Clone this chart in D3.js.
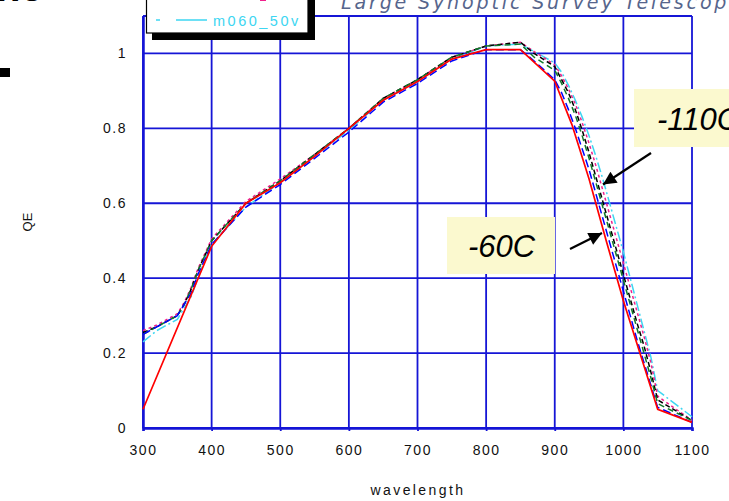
<!DOCTYPE html>
<html><head><meta charset="utf-8">
<script src="https://cdn.jsdelivr.net/npm/d3@7"></script>
<style>
html,body{margin:0;padding:0;background:#fff;}
svg{display:block;font-family:"Liberation Sans",Arial,sans-serif;}
</style></head>
<body>
<svg id="chart" width="729" height="501"></svg>
<script>
// ---- data ----
const xTicks = [300,400,500,600,700,800,900,1000,1100];
const yTicks = [0,0.2,0.4,0.6,0.8,1];
const yTickLabels = ["0","0.2","0.4","0.6","0.8","1"];

const redWl = [300,400,450,500,550,600,650,700,750,800,850,900,925,950,975,1000,1025,1050,1100];
const redQE = [0.05,0.485,0.60,0.655,0.725,0.80,0.875,0.925,0.985,1.01,1.01,0.926,0.81,0.665,0.50,0.34,0.195,0.05,0.015];

const wl = [300,320,340,350,360,370,380,390,400,420,440,450,500,550,600,650,700,750,800,850,870,900,910,920,930,940,950,960,970,980,990,1000,1010,1020,1030,1040,1050,1100];
const blueQE    = [0.25,0.27,0.29,0.30,0.33,0.36,0.41,0.45,0.49,0.53,0.57,0.59,0.65,0.72,0.79,0.87,0.92,0.98,1.01,1.01,0.98,0.93,0.895,0.85,0.80,0.745,0.69,0.625,0.56,0.495,0.43,0.365,0.30,0.235,0.175,0.115,0.055,0.015];
const greenQE   = [0.25,0.27,0.29,0.30,0.33,0.37,0.42,0.46,0.50,0.54,0.58,0.60,0.66,0.73,0.80,0.88,0.93,0.99,1.02,1.025,0.99,0.955,0.92,0.88,0.835,0.78,0.72,0.655,0.59,0.525,0.46,0.395,0.33,0.265,0.20,0.135,0.065,0.02];
const blackQE   = [0.255,0.27,0.29,0.30,0.33,0.37,0.42,0.46,0.50,0.54,0.58,0.60,0.66,0.73,0.80,0.88,0.93,0.99,1.02,1.03,1.00,0.965,0.93,0.895,0.85,0.795,0.735,0.67,0.605,0.54,0.475,0.41,0.345,0.28,0.22,0.15,0.075,0.02];
const magentaQE = [0.26,0.275,0.295,0.305,0.335,0.375,0.425,0.465,0.505,0.545,0.585,0.605,0.665,0.73,0.80,0.88,0.93,0.99,1.02,1.03,1.005,0.97,0.94,0.905,0.865,0.815,0.76,0.70,0.635,0.57,0.505,0.44,0.375,0.31,0.245,0.175,0.085,0.02];
const cyanQE    = [0.23,0.26,0.28,0.29,0.32,0.35,0.40,0.45,0.49,0.53,0.57,0.59,0.655,0.725,0.795,0.875,0.925,0.985,1.02,1.025,1.005,0.975,0.95,0.915,0.875,0.83,0.78,0.725,0.665,0.60,0.535,0.47,0.40,0.33,0.26,0.19,0.10,0.03];

const seriesNames  = ["cyan","magenta","black","green","blue"];
const seriesValues = [cyanQE,magentaQE,blackQE,greenQE,blueQE];
const seriesColors = ["#3dd6f2","#f0208c","#000000","#0f7a2a","#0000ff"];
const seriesDash   = ["10,3,2,3","3,3","5,3","6,4","8,4"];

const legendLabel = "m060_50v";
const annotations = [{label:"-110C"},{label:"-60C"}];

// ---- drawing ----
const svg = d3.select("#chart");
const x = d3.scaleLinear().domain([300,1100]).range([143,692]);
const y = d3.scaleLinear().domain([0,1.1]).range([428,16]);
const gridColor = "#1515d6";

// header fragments
svg.append("text").attr("x",341).attr("y",9)
  .attr("font-family","'DejaVu Sans',Verdana,sans-serif").attr("font-style","italic")
  .attr("font-size",19).attr("fill","#56658c")
  .attr("textLength",400).attr("lengthAdjust","spacing")
  .text("Large Synoptic Survey Telescope");
svg.append("text").attr("x",-4).attr("y",1).attr("font-size",40).attr("font-weight","bold")
  .attr("fill","#000").text("ne");
svg.append("rect").attr("x",0).attr("y",68).attr("width",10).attr("height",9).attr("fill","#000");

// grid
const g = svg.append("g");
g.selectAll("line.vg").data(xTicks).join("line")
  .attr("x1",d=>x(d)).attr("x2",d=>x(d)).attr("y1",y(1.1)).attr("y2",y(0))
  .attr("stroke",gridColor).attr("stroke-width",1.8);
g.selectAll("line.hg").data(yTicks.concat([1.1])).join("line")
  .attr("x1",x(300)).attr("x2",x(1100)).attr("y1",d=>y(d)).attr("y2",d=>y(d))
  .attr("stroke",gridColor).attr("stroke-width",1.8);

// axes
const xAxis = d3.axisBottom(x).tickValues(xTicks).tickFormat(d3.format("d")).tickSize(3).tickPadding(14);
const gx = svg.append("g").attr("transform","translate(0,428)").call(xAxis);
gx.select(".domain").attr("stroke",gridColor).attr("stroke-width",2.5);
gx.selectAll(".tick line").attr("stroke",gridColor).attr("stroke-width",1.8);
gx.selectAll(".tick text").attr("font-size",14).attr("letter-spacing","1.5px").attr("fill","#111")
  .attr("font-family","'Liberation Sans',Arial,sans-serif");

const yAxis = d3.axisLeft(y).tickValues(yTicks).tickFormat((d,i)=>yTickLabels[i]).tickSize(0).tickPadding(16);
const gy = svg.append("g").attr("transform","translate(143,0)").call(yAxis);
gy.select(".domain").attr("stroke",gridColor).attr("stroke-width",2.5);
gy.selectAll(".tick text").attr("font-size",14).attr("letter-spacing","1.5px").attr("fill","#111")
  .attr("font-family","'Liberation Sans',Arial,sans-serif");

// axis titles
svg.append("text").attr("x",418).attr("y",495).attr("text-anchor","middle")
  .attr("font-size",14).attr("letter-spacing","2.4px").attr("fill","#111").text("wavelength");
svg.append("text").attr("transform","translate(32,222) rotate(-90)").attr("text-anchor","middle")
  .attr("font-size",13).attr("fill","#111").text("QE");

// curves
const line = d3.line().x(d=>x(d[0])).y(d=>y(d[1]));
seriesValues.forEach((vals,i)=>{
  svg.append("path").datum(wl.map((w,j)=>[w,vals[j]]))
    .attr("d",line).attr("fill","none").attr("stroke",seriesColors[i])
    .attr("stroke-width",1.5).attr("stroke-dasharray",seriesDash[i]);
});
svg.append("path").datum(redWl.map((w,j)=>[w,redQE[j]]))
  .attr("d",line).attr("fill","none").attr("stroke","#ff0000").attr("stroke-width",1.7);

// legend box (clipped at top)
svg.append("rect").attr("x",152).attr("y",-20).attr("width",163).attr("height",60).attr("fill","#000");
svg.append("rect").attr("x",146.5).attr("y",-20).attr("width",161.5).attr("height",53)
  .attr("fill","#fff").attr("stroke","#000").attr("stroke-width",1.2);
svg.append("line").attr("x1",156).attr("x2",160).attr("y1",20).attr("y2",20)
  .attr("stroke","#3dd6f2").attr("stroke-width",1.5);
svg.append("line").attr("x1",176).attr("x2",207).attr("y1",20).attr("y2",20)
  .attr("stroke","#3dd6f2").attr("stroke-width",1.5);
svg.append("text").attr("x",213).attr("y",26).attr("font-size",14.5).attr("letter-spacing","2.5px")
  .attr("fill","#3dd6f2").text(legendLabel);
svg.append("line").attr("x1",260).attr("x2",266).attr("y1",0.5).attr("y2",0.5)
  .attr("stroke","#f0208c").attr("stroke-width",1);

// annotation boxes
const boxFill = "#fbf9cf";
svg.append("rect").attr("x",634).attr("y",89).attr("width",100).attr("height",58).attr("fill",boxFill);
svg.append("text").attr("x",657).attr("y",130).attr("font-size",31).attr("font-style","italic")
  .attr("fill","#000").text(annotations[0].label);
svg.append("rect").attr("x",447).attr("y",217).attr("width",108).attr("height",57).attr("fill",boxFill);
svg.append("text").attr("x",468).attr("y",257).attr("font-size",31).attr("font-style","italic")
  .attr("fill","#000").text(annotations[1].label);

// arrows
svg.append("defs").append("marker").attr("id","ah").attr("viewBox","0 0 10 10")
  .attr("refX",10).attr("refY",5).attr("markerWidth",7).attr("markerHeight",6)
  .attr("markerUnits","strokeWidth").attr("orient","auto")
  .append("path").attr("d","M0,0 L10,5 L0,10 Z").attr("fill","#000");
svg.append("line").attr("x1",651).attr("y1",153).attr("x2",603).attr("y2",184.5)
  .attr("stroke","#000").attr("stroke-width",2.2).attr("marker-end","url(#ah)");
svg.append("line").attr("x1",570).attr("y1",249).attr("x2",602).attr("y2",233)
  .attr("stroke","#000").attr("stroke-width",2.2).attr("marker-end","url(#ah)");
</script>
</body></html>
